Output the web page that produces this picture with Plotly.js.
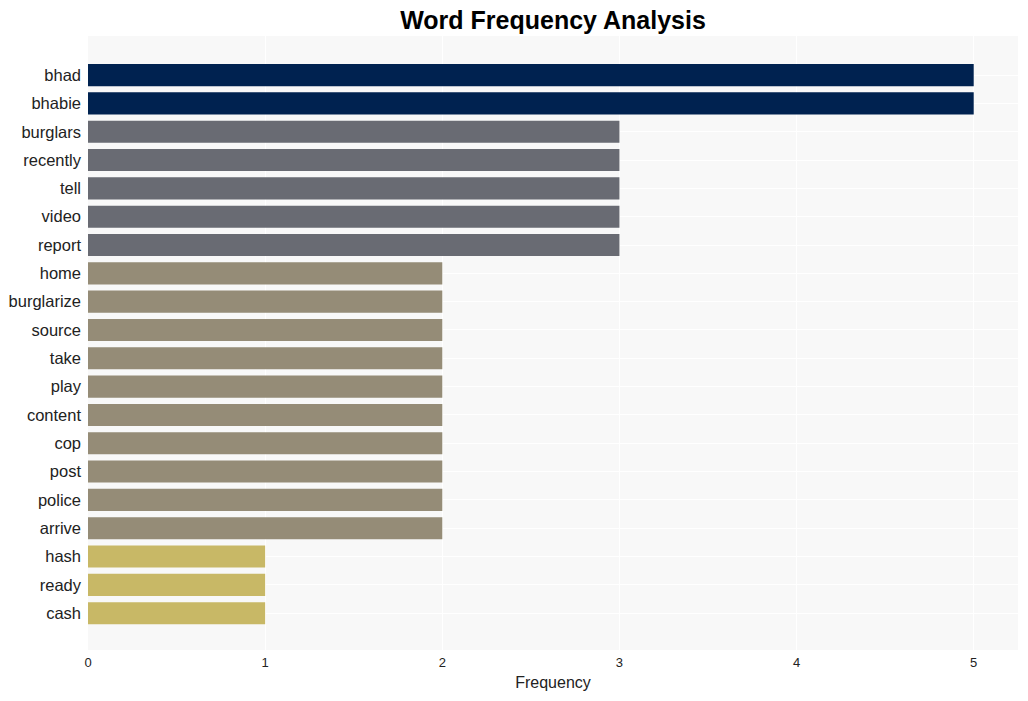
<!DOCTYPE html>
<html><head><meta charset="utf-8">
<script src="https://cdn.plot.ly/plotly-3.0.1.min.js"></script>
<style>body{margin:0}#c{width:1028px;height:701px}</style></head>
<body><div id="c"></div>
<script>
const words = ["bhad","bhabie","burglars","recently","tell","video","report","home","burglarize","source","take","play","content","cop","post","police","arrive","hash","ready","cash"];
const freqs = [5,5,3,3,3,3,3,2,2,2,2,2,2,2,2,2,2,1,1,1];
const colorByFreq = {5:"#002250",3:"#696b73",2:"#958c77",1:"#c8b866"};
Plotly.newPlot("c",[{
  type:"bar", orientation:"h", x:freqs, y:words,
  marker:{color:freqs.map(f=>colorByFreq[f])}, width:0.78,
  hoverinfo:"x+y"
}],{
  width:1028,height:701,
  margin:{l:88,r:10,t:36,b:51},
  paper_bgcolor:"#ffffff", plot_bgcolor:"#f8f8f8",
  font:{family:"Liberation Sans, Arial, sans-serif",color:"#222"},
  title:{text:"<b>Word Frequency Analysis</b>",x:0.5,xref:"paper",xanchor:"center",y:0.9715,yanchor:"middle",font:{size:25,color:"#000"}},
  xaxis:{range:[0,5.25],dtick:1,gridcolor:"#ffffff",zeroline:false,tickfont:{size:13},ticks:"",ticklabelstandoff:3,
    title:{text:"Frequency",font:{size:16},standoff:7}},
  yaxis:{type:"category",categoryorder:"array",categoryarray:words,range:[20.3,-1.38],
    gridcolor:"#ffffff",tickfont:{size:16.5},ticks:"",ticklabelstandoff:6},
  showlegend:false,bargap:0.22
},{displayModeBar:false});
</script></body></html>
